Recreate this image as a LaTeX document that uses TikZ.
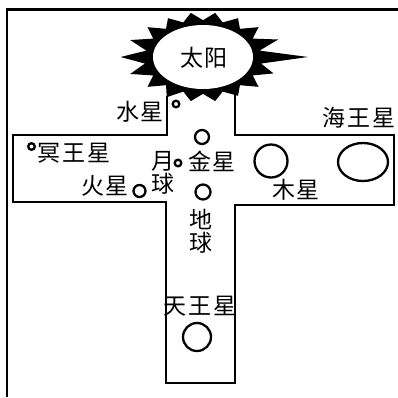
\documentclass[tikz,border=0pt]{standalone}
\usepackage{fontspec}
\newfontfamily\cjk[LetterSpace=8]{Noto Sans CJK SC}
\begin{document}
\begin{tikzpicture}[x=1pt,y=-1pt,
  lbl/.style={font=\cjk\fontsize{23pt}{23pt}\selectfont, inner sep=0pt},
  vlbl/.style={lbl, align=center},
  orb/.style={draw=black, line width=2.3pt, fill=white},
  wall/.style={draw=black, line width=2.3pt, line join=miter}]
\useasboundingbox (0,0) rectangle (398,397);

% outer frame (left and top edges)
\draw[wall] (7,397) -- (7,9.5) -- (398,9.5);

% cross-shaped board
\draw[wall] (167,96) -- (167,135) -- (13,135) -- (13,202) -- (166,202)
  -- (166,383) -- (235,383) -- (235,205) -- (394,205) -- (394,135)
  -- (235,135) -- (235,92);

% the sun: spiky corona around a white disc
\fill[black] ({203+50*1.15*cos(350)},{57+32*1.15*sin(350)})
  \foreach \a/\f in {0/2.1,10/1.18,20/1.5,30/1.15,40/1.45,50/1.15,60/1.4,70/1.15,
                     80/1.4,90/1.15,100/1.4,110/1.15,120/1.45,130/1.15,140/1.45,150/1.15,
                     160/1.55,170/1.18,180/1.65,190/1.15,200/1.55,210/1.15,220/1.45,230/1.15,
                     240/1.4,250/1.15,260/1.4,270/1.15,280/1.4,290/1.15,300/1.4,310/1.15,
                     320/1.45,330/1.15,340/1.6}
  { -- ({203+50*\f*cos(\a)},{57+32*\f*sin(\a)}) } -- cycle;
\fill[white] (203,57) ellipse [x radius=50, y radius=32];
\node[lbl] (sun) at (204,58) {太阳};

% planets
\draw[orb] (176,104) circle [radius=3.3];
\node[lbl] (mercury) at (140,112) {水星};

\draw[orb] (202,137) circle [radius=7];
\node[lbl] (venus) at (212,161) {金星};

\draw[orb] (178,163) circle [radius=3.3];
\node[vlbl] (moon) at (163,173) {月\\球};

\draw[orb] (203,192) circle [radius=7.5];
\node[vlbl] (earth) at (201,231) {地\\球};

\draw[orb] (139.5,191) circle [radius=6];
\node[lbl] (mars) at (105,186) {火星};

\draw[orb] (31.5,146.5) circle [radius=3.3];
\node[lbl] (pluto) at (74,153) {冥王星};

\draw[orb] (271,161) circle [radius=16.5];
\node[lbl] (jupiter) at (296,190) {木星};

\draw[orb] (363,162) ellipse [x radius=25, y radius=19];
\node[lbl] (neptune) at (359,118) {海王星};

\draw[orb] (197,337) circle [radius=14];
\node[lbl] (uranus) at (200,306) {天王星};
\end{tikzpicture}
\end{document}
